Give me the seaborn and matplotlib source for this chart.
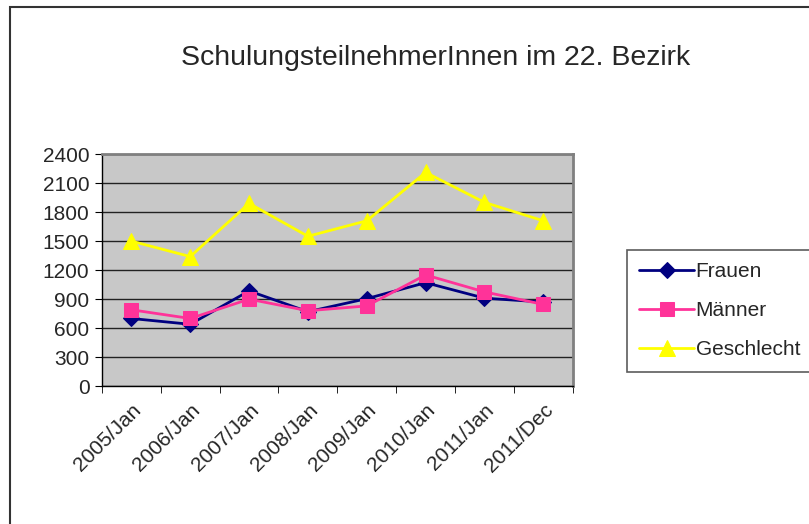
import matplotlib
matplotlib.use("Agg")
import matplotlib.pyplot as plt
from matplotlib.patches import Rectangle
import seaborn as sns
import pandas as pd

# data
periods = ["2005/Jan", "2006/Jan", "2007/Jan", "2008/Jan", "2009/Jan", "2010/Jan", "2011/Jan", "2011/Dec"]
frauen = [700, 640, 985, 770, 905, 1070, 910, 870]
maenner = [790, 700, 900, 780, 830, 1150, 975, 845]
geschlecht = [1500, 1340, 1890, 1550, 1710, 2210, 1900, 1710]

series_names = ["Frauen", "Männer", "Geschlecht"]
colors = {"Frauen": "#000080", "Männer": "#FF3399", "Geschlecht": "#FFFF00"}
markers = {"Frauen": "D", "Männer": "s", "Geschlecht": "^"}
msizes = {"Frauen": 8, "Männer": 10, "Geschlecht": 12}

df = pd.DataFrame({
    "x": list(range(len(periods))) * 3,
    "value": frauen + maenner + geschlecht,
    "series": ["Frauen"] * 8 + ["Männer"] * 8 + ["Geschlecht"] * 8,
})

sns.set_style("white")
plt.rcParams["font.family"] = ["Liberation Sans", "DejaVu Sans"]

fig = plt.figure(figsize=(8.09, 5.24), dpi=100)
# chart area border (runs off the right and bottom edge)
fig.patches.append(Rectangle((10 / 809, -0.05), 1.0, 1 - 7 / 524 + 0.05, transform=fig.transFigure,
                             fill=False, edgecolor="#333333", linewidth=1.5))

ax = fig.add_axes([0.126, 0.263, 0.582, 0.443])
ax.set_facecolor("#C8C8C8")

for name in series_names:
    sub = df[df["series"] == name]
    sns.lineplot(data=sub, x="x", y="value", ax=ax, color=colors[name],
                 marker=markers[name], markersize=msizes[name],
                 markeredgecolor=colors[name], linewidth=2, label=name)

ax.set_xlim(-0.5, len(periods) - 0.5)
ax.set_ylim(0, 2400)
ax.set_yticks(range(0, 2401, 300))
ax.yaxis.grid(True, color="#222222", linewidth=1)
ax.set_axisbelow(True)
ax.set_xticks(range(len(periods)))
ax.set_xticklabels(periods, rotation=45, ha="right", rotation_mode="anchor", fontsize=15)
ax.set_xticks([i - 0.5 for i in range(len(periods) + 1)], minor=True)
ax.tick_params(axis="x", which="major", length=0, pad=10)
ax.tick_params(axis="x", which="minor", length=5, color="black", direction="out", bottom=True)
ax.tick_params(axis="y", length=5, color="black", direction="out", left=True, labelsize=15, pad=4)
ax.set_xlabel("")
ax.set_ylabel("")
for side in ["top", "right"]:
    ax.spines[side].set_color("#808080")
    ax.spines[side].set_linewidth(2)
for side in ["left", "bottom"]:
    ax.spines[side].set_color("black")
    ax.spines[side].set_linewidth(1)

fig.text(0.538, 0.89, "SchulungsteilnehmerInnen im 22. Bezirk", ha="center", va="center", fontsize=20.5)

ax.legend_.remove()
handles, labels = ax.get_legend_handles_labels()
leg = fig.legend(handles, labels, loc="upper left", bbox_to_anchor=(0.775, 0.523),
                 frameon=True, fancybox=False, edgecolor="#333333", fontsize=15,
                 handlelength=2.6, labelspacing=0.95, borderpad=0.6, handletextpad=0.1,
                 borderaxespad=0)
leg.get_frame().set_linewidth(1.2)

fig.savefig("out.png", dpi=100)
